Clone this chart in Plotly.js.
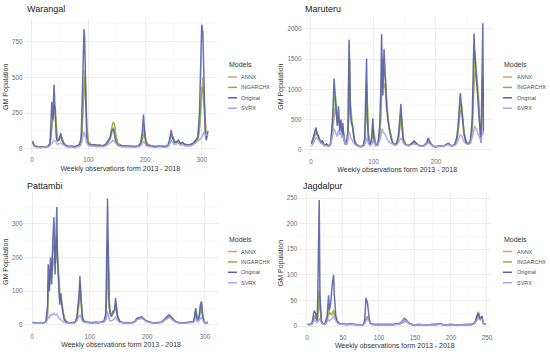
<!DOCTYPE html>
<html>
<head>
<meta charset="utf-8">
<script src="https://cdn.plot.ly/plotly-3.0.1.min.js"></script>
<style>html,body{margin:0;padding:0;background:#fff;}#chart{width:550px;height:355px;}</style>
</head>
<body>
<div id="chart"></div>
<script>
// ---------- DATA ----------
var seriesNames = ["ANNX", "INGARCHX", "Original", "SVRX"];
var panelTitles = ["Warangal", "Maruteru", "Pattambi", "Jagdalpur"];
var xAxisTitle = "Weekly observations form 2013 - 2018";
var yAxisTitle = "GM Population";
var legendTitle = "Models";

// Warangal
var warWeeks = [1,4,8,12,16,20,24,28,32, 35,37,39,41,43,45,48,51,53,56, 60,65,70,75,80,84,87,89,91,92, 93,95,97,100,105,110,115,120,125,130, 135,138,141,144,146,149,152,158,165,172, 180,188,192,195,197,199,201,204,210,218, 226,234,240,243,246,249,252,256,259,262, 266,270,275,280,285,289,293,296,298,300, 302,304,306,308,311];
var warOriginal = [55,20,15,10,12,15,12,18,40, 330,200,450,250,80,50,70,110,60,35, 20,15,18,12,20,30,80,350,700,840, 780,250,60,30,25,30,20,25,20,30, 60,80,130,140,90,40,25,20,18,20, 15,20,40,120,240,120,40,25,20,15, 20,15,20,60,130,70,40,50,60,35, 45,30,25,30,40,60,80,250,650,870, 820,450,120,60,125];
var warINGARCHX = [40,25,18,14,13,14,14,16,30, 200,250,300,260,120,60,65,90,70,40, 25,18,17,15,18,25,60,200,420,480, 500,320,110,40,28,28,24,24,22,28, 50,70,150,190,170,70,35,24,20,20, 17,18,30,60,100,110,60,30,22,17, 18,16,18,45,90,80,50,45,50,40, 40,33,27,28,35,50,70,150,300,430, 420,320,160,80,100];
var warANNX = [45,22,16,12,12,14,13,16,30, 150,250,280,300,150,70,60,85,75,45, 25,17,17,14,18,26,50,150,350,450, 550,400,150,50,30,28,24,24,22,26, 45,65,110,150,130,70,35,23,20,19, 16,18,30,70,140,130,70,35,22,17, 18,16,18,40,90,85,55,45,52,42, 40,33,27,28,35,48,65,120,250,400, 500,380,180,90,100];
var warSVRX = [30,15,10,8,8,10,9,12,20, 45,50,60,55,40,30,35,40,35,25, 15,10,12,8,12,18,30,60,100,120, 110,80,40,22,18,20,15,18,15,20, 30,40,50,60,50,30,20,15,12,14, 10,14,20,35,50,45,25,18,14,10, 14,10,14,30,60,45,30,35,40,25, 30,20,18,20,28,40,50,60,70,80, 100,120,90,100,90];

// Maruteru
var marWeeks = [1,3,5,7,8,10,12,14,16,18, 20,22,25,28,31,33,35,37,39,40, 42,44,46,48,50,51,53,55,57,59, 60,61,62,63,65,66,68,70,73,76, 80,84,86,88,89,90,92,95,97,99, 101,104,107,110,112,113,114,115,117,119, 121,123,125,128,131,135,138,140,142,144, 146,148,152,156,160,165,170,175,180,185, 188,191,195,200,205,210,215,220,225,230, 233,235,237,239,241,243,245,248,252,255, 258,260,261,262,264,266,268,270,272,273, 275,276];
var marOriginal = [100,180,250,340,370,260,220,150,120,160, 90,70,100,60,90,300,600,1180,850,820, 400,720,300,500,200,450,150,90,120,300, 800,1820,1300,600,420,440,250,120,80,60, 50,80,200,1000,1510,600,120,80,200,520, 130,70,90,400,1100,1910,1400,900,1660,1100, 700,500,350,200,100,80,150,250,500,760, 320,130,80,70,100,150,90,60,70,120, 200,100,60,50,70,60,80,110,60,90, 200,350,650,940,700,450,250,120,100,150, 500,1500,1920,1600,1300,1100,800,350,120,700, 2090,300];
var marINGARCHX = [110,170,230,300,330,280,220,170,130,140, 100,80,95,70,85,220,450,800,900,700, 500,550,400,420,300,350,200,110,110,220, 500,1200,1500,800,450,420,300,150,90,70, 55,70,150,600,1100,900,250,100,150,380, 250,90,85,250,700,1300,1500,1200,1300,1200, 800,550,380,220,120,85,120,200,380,600, 450,180,90,70,90,130,100,65,65,100, 170,120,70,55,65,60,75,100,70,80, 150,280,500,750,750,500,300,150,100,130, 350,1000,1400,1650,1400,1200,900,450,160,400, 1200,900];
var marANNX = [100,160,200,250,280,240,200,160,130,130, 100,80,90,70,80,180,350,600,700,650, 450,500,380,400,280,320,200,120,110,180, 400,900,1100,700,450,400,300,160,90,70, 60,70,130,450,800,700,250,100,130,300, 220,90,85,200,550,1000,1200,1000,1100,1000, 750,500,350,220,120,85,110,180,320,500, 400,180,90,70,90,120,100,65,65,100, 150,110,70,55,65,60,75,95,70,80, 130,250,450,650,650,450,280,150,100,120, 300,800,1100,1300,1200,1000,800,450,180,350, 900,700];
var marSVRX = [60,100,150,180,200,190,160,130,110,100, 80,70,70,60,70,150,250,350,300,280, 220,330,250,300,200,250,150,90,90,150, 250,300,280,220,180,150,120,90,70,60, 50,60,80,150,200,180,100,70,90,150, 120,70,75,150,250,330,350,300,280,250, 200,160,130,110,90,75,90,120,160,200, 160,110,80,65,80,100,85,60,60,90, 120,90,65,50,60,55,70,90,65,75, 100,150,200,250,230,180,140,100,90,110, 200,300,380,400,350,300,250,200,150,200, 300,250];

// Pattambi
var patWeeks = [1,5,10,15,20,24,27,28,30,32, 34,36,38,40,42,43,44,46,48,50, 53,56,60,65,70,75,78,80,82,83, 85,87,90,95,100,105,110,115,120,125, 128,130,131,132,133,134,136,138,140,143, 145,146,148,152,158,165,172,178,182,186, 190,194,198,205,212,220,226,230,234,237, 240,243,247,252,260,268,275,280,282,284, 286,288,290,292,294,296,298,300,303,305];
var patOriginal = [8,6,5,7,6,10,60,180,100,200, 120,250,320,150,330,350,200,120,60,95, 40,15,8,6,7,9,25,60,100,145, 60,20,10,8,7,6,8,7,9,12, 35,200,375,250,120,50,30,25,40,45, 80,60,25,10,6,7,6,10,20,22, 25,18,12,8,6,7,10,18,25,30, 28,22,12,8,6,7,9,10,25,50, 15,10,30,60,70,25,10,5,8,4];
var patINGARCHX = [7,6,5,6,6,8,40,130,120,180, 160,220,240,200,250,260,220,150,90,80, 50,20,9,6,6,8,20,45,80,120, 80,30,12,8,7,6,7,7,8,10, 25,120,250,220,140,70,35,28,35,40, 60,55,30,12,7,7,6,9,17,20, 22,18,12,8,6,7,9,15,22,26, 25,20,12,8,6,7,8,9,20,45, 25,12,25,50,60,30,12,6,7,5];
var patANNX = [7,6,5,6,6,8,30,100,110,150, 140,180,200,180,210,220,200,140,90,75, 45,20,9,6,6,8,18,40,70,100, 75,30,12,8,7,6,7,7,8,10, 22,100,200,200,130,65,33,27,33,38, 55,50,28,12,7,7,6,9,16,19, 21,17,12,8,6,7,9,14,21,24, 23,19,12,8,6,7,8,9,18,40, 22,12,22,45,55,28,12,6,7,5];
var patSVRX = [6,5,5,6,6,8,15,25,22,30, 28,32,35,30,33,32,28,22,18,16, 12,8,6,5,6,7,12,20,25,30, 22,12,8,6,6,5,6,6,7,9, 15,25,40,35,25,15,12,12,15,18, 25,22,14,8,6,6,5,8,15,18, 20,16,10,7,5,6,8,14,20,22, 20,16,10,7,5,6,7,8,12,20, 14,9,15,20,22,15,9,5,6,4];

// Jagdalpur
var jagWeeks = [1,4,7,9,10,12,14,15,16,17, 18,19,20,22,25,28,30,31,33,35, 37,38,40,42,45,50,55,60,65,70, 75,78,80,82,84,86,88,92,100,110, 120,128,132,135,138,142,148,155,165,175, 180,185,190,200,210,220,228,232,234,236, 238,240,241,243,245,248];
var jagOriginal = [3,3,5,20,30,25,10,60,150,246, 60,20,10,5,4,20,60,30,45,80, 100,60,20,10,5,4,3,4,3,3, 2,3,10,55,45,20,5,3,3,2, 3,5,8,15,12,5,2,3,2,3, 3,5,2,3,2,3,3,5,10,20, 25,12,15,20,5,3];
var jagINGARCHX = [3,3,4,12,20,18,10,25,50,70, 40,18,10,5,4,12,30,25,25,25, 30,28,15,8,5,4,3,4,3,3, 2,3,6,15,18,12,5,3,3,2, 3,4,6,10,10,5,2,3,2,3, 3,4,2,3,2,3,3,5,8,18, 28,15,14,16,6,3];
var jagANNX = [3,3,4,10,15,15,10,18,35,50, 35,18,10,5,4,10,25,22,22,22, 25,25,15,8,5,4,3,4,3,3, 2,3,6,12,15,12,5,3,3,2, 3,4,6,9,9,5,2,3,2,3, 3,4,2,3,2,3,3,4,7,15, 22,14,13,14,6,3];
var jagSVRX = [2,2,3,8,10,10,6,8,12,15, 12,8,6,4,3,8,12,10,12,15, 20,15,10,6,4,3,2,3,2,2, 2,2,5,10,15,10,4,2,2,2, 2,4,6,12,10,4,2,2,2,2, 2,4,2,2,2,2,2,4,8,12, 15,12,12,14,5,2];

// x tick values / y tick steps per panel
var xTickStep = [100, 100, 100, 50];
var yTickStep = [250, 500, 100, 50];

// ---------- STYLE ----------
var W = 550, H = 355;
var colors = {"ANNX": "#C4A66A", "INGARCHX": "#86B33A", "Original": "#5661A8", "SVRX": "#A9A2EC"};
var FONT = "Liberation Sans, Arial, sans-serif";

var panels = [
  {weeks: warWeeks, data: [warANNX, warINGARCHX, warOriginal, warSVRX],
   dom: {x0: 23.5, x1: 217, y0: 18.5, y1: 155}, xr: [-15, 327], yr: [-43.5, 913.5],
   title: {x: 25, y: 9.5}, leg: {x: 226.5, y: 65}},
  {weeks: marWeeks, data: [marANNX, marINGARCHX, marOriginal, marSVRX],
   dom: {x0: 302.4, x1: 492, y0: 17, y1: 156.3}, xr: [-13.7, 289.7], yr: [-104.5, 2194.5],
   title: {x: 303, y: 9.5}, leg: {x: 501.5, y: 65}},
  {weeks: patWeeks, data: [patANNX, patINGARCHX, patOriginal, patSVRX],
   dom: {x0: 23.4, x1: 218.8, y0: 192.3, y1: 331.3}, xr: [-15, 324], yr: [-18.75, 393.75],
   title: {x: 25, y: 185.5}, leg: {x: 226.5, y: 239.5}},
  {weeks: jagWeeks, data: [jagANNX, jagINGARCHX, jagOriginal, jagSVRX],
   dom: {x0: 298.2, x1: 491.3, y0: 193.8, y1: 332.3}, xr: [-12.2, 256], yr: [-12.3, 258.3],
   title: {x: 301, y: 185.5}, leg: {x: 501.5, y: 239.5}}
];

var traces = [];
var layout = {
  width: W, height: H,
  margin: {l: 0, r: 0, t: 0, b: 0},
  paper_bgcolor: "#ffffff", plot_bgcolor: "#ffffff",
  font: {family: FONT, color: "#333333"},
  showlegend: false,
  annotations: [], shapes: []
};

panels.forEach(function (p, i) {
  var n = i === 0 ? "" : String(i + 1);
  var xa = "x" + n, ya = "y" + n;
  seriesNames.forEach(function (s, k) {
    traces.push({
      type: "scatter", mode: "lines", name: s,
      x: p.weeks, y: p.data[k], xaxis: xa, yaxis: ya,
      line: {color: colors[s], width: 1.5},
      opacity: 0.9, showlegend: false, hoverinfo: "x+y+name"
    });
  });
  var axCommon = {
    showline: false, zeroline: false, ticks: "",
    gridcolor: "#E6E6E6", gridwidth: 0.7,
    tickfont: {size: 6.3, color: "#6b6b6b", family: FONT}
  };
  layout["xaxis" + n] = Object.assign({}, axCommon, {
    domain: [p.dom.x0 / W, p.dom.x1 / W], range: p.xr, anchor: ya,
    tick0: 0, dtick: xTickStep[i],
    minor: {tick0: 0, dtick: xTickStep[i] / 2, showgrid: true, gridcolor: "#F3F3F3", gridwidth: 0.5},
    title: {text: xAxisTitle, font: {size: 7, color: "#333333", family: FONT}, standoff: 3}
  });
  layout["yaxis" + n] = Object.assign({}, axCommon, {
    domain: [1 - p.dom.y1 / H, 1 - p.dom.y0 / H], range: p.yr, anchor: xa,
    tick0: 0, dtick: yTickStep[i],
    minor: {tick0: 0, dtick: yTickStep[i] / 2, showgrid: true, gridcolor: "#F3F3F3", gridwidth: 0.5},
    title: {text: yAxisTitle, font: {size: 7, color: "#333333", family: FONT}, standoff: 2}
  });
  // panel title
  layout.annotations.push({
    text: panelTitles[i], xref: "paper", yref: "paper",
    x: p.title.x / W, y: 1 - p.title.y / H, xanchor: "left", yanchor: "middle",
    showarrow: false, font: {size: 9, color: "#1a1a1a", family: FONT}
  });
  // legend (drawn compactly, ggplot-style)
  layout.annotations.push({
    text: legendTitle, xref: "paper", yref: "paper",
    x: p.leg.x / W, y: 1 - p.leg.y / H, xanchor: "left", yanchor: "middle",
    showarrow: false, font: {size: 7, color: "#333333", family: FONT}
  });
  seriesNames.forEach(function (s, k) {
    var yy = p.leg.y + 12 + k * 10.4;
    layout.shapes.push({
      type: "line", xref: "paper", yref: "paper",
      x0: (p.leg.x + 1.5) / W, x1: (p.leg.x + 10.5) / W,
      y0: 1 - yy / H, y1: 1 - yy / H,
      line: {color: colors[s], width: 1.5}
    });
    layout.annotations.push({
      text: s, xref: "paper", yref: "paper",
      x: (p.leg.x + 13) / W, y: 1 - yy / H, xanchor: "left", yanchor: "middle",
      showarrow: false, font: {size: 5.5, color: "#4d4d4d", family: FONT}
    });
  });
});

Plotly.newPlot("chart", traces, layout, {displayModeBar: false, staticPlot: true});
</script>
</body>
</html>
